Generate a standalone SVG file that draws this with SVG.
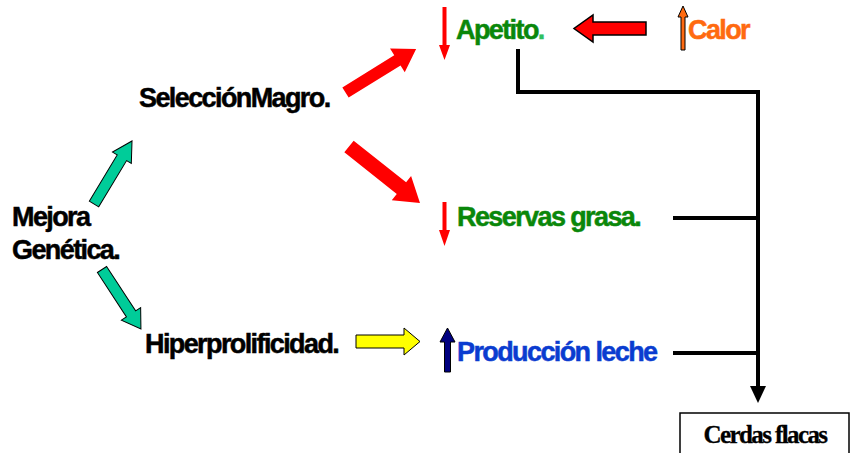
<svg xmlns="http://www.w3.org/2000/svg" width="854" height="453" viewBox="0 0 854 453">
<style>
.t{font-family:"Liberation Sans",Arial,sans-serif;font-weight:bold;font-size:27px;letter-spacing:-1.6px;stroke-width:0.5px}
.k{fill:#000;stroke:#000}
.g{fill:#0a870a;stroke:#0a870a}
.b{fill:#0a3cd0;stroke:#0a3cd0}
.o{fill:#ff6a10;stroke:#ff6a10}
.ln{fill:none;stroke:#000;stroke-width:4;stroke-linejoin:miter}
.fat{fill:#ff0000}
.grn{fill:#00cc99;stroke:#000;stroke-width:1}
</style>
<rect width="854" height="453" fill="#fff"/>
<g id="mejora"><text class="t k" x="12" y="226">Mejora</text><text class="t k" x="12" y="259">Genética.</text></g>
<g id="seleccion"><text class="t k" x="139" y="107">SelecciónMagro.</text></g>
<g id="hiper"><text class="t k" x="145" y="353">Hiperprolificidad.</text></g>
<g id="apetito">
<path d="M442.5,7 h4 v38 h3.5 l-5.5,15 l-5.5,-15 h3.5 z" fill="#ff0000"/>
<text class="t g" x="456" y="39">Apetito<tspan fill="#2fc060" stroke="#2fc060">.</tspan></text>
</g>
<g id="calor">
<path d="M681,50 v-33 h-3 l5,-11 l5,11 h-3 v33 z" fill="#ff6a10" stroke="#000" stroke-width="1"/>
<text class="t o" x="688" y="39">Calor</text>
</g>
<g id="reservas">
<path d="M442.5,202 h4 v28 h3.5 l-5.5,16 l-5.5,-16 h3.5 z" fill="#ff0000"/>
<text class="t g" x="457" y="226">Reservas grasa.</text>
</g>
<g id="produccion">
<path d="M444.5,372 v-30 h-4.5 l7.5,-14 l7.5,14 h-4.5 v30 z" fill="#000080" stroke="#000" stroke-width="1"/>
<text class="t b" x="457" y="361">Producción leche</text>
</g>
<g id="cerdas">
<rect x="680" y="413" width="169" height="60" fill="#fff" stroke="#000" stroke-width="1.5"/>
<text x="765" y="443" text-anchor="middle" font-family="'Liberation Serif','Times New Roman',serif" font-weight="bold" font-size="25" letter-spacing="-1.6" stroke="#000" stroke-width="0.3">Cerdas flacas</text>
</g>
<g id="connectors">
<path class="fat" transform="translate(345.5,92.5) rotate(-31.7)" d="M0,-6 L61,-6 L61,-14 L83,0 L61,14 L61,6 L0,6 Z"/>
<path class="fat" transform="translate(349,146.5) rotate(38.5)" d="M0,-7.5 L67,-7.5 L67,-15.5 L90.7,0 L67,15.5 L67,7.5 L0,7.5 Z"/>
<path class="grn" transform="translate(94,204) rotate(-58.9)" d="M0,-5.5 L54,-5.5 L54,-11 L73.6,0 L54,11 L54,5.5 L0,5.5 Z"/>
<path class="grn" transform="translate(102,269.5) rotate(56.8)" d="M0,-5.5 L53,-5.5 L53,-11.5 L71.1,0 L53,11.5 L53,5.5 L0,5.5 Z"/>
<path d="M356,335 h48 v-7 l16,13.5 l-16,13.5 v-7 h-48 z" fill="#ffff00" stroke="#000" stroke-width="1"/>
<path d="M646,22 h-53 v-7 l-19,13.5 l19,13.5 v-7 h53 z" fill="#ff0000" stroke="#000" stroke-width="1.5"/>
<polyline class="ln" points="518,49 518,92 758,92 758,388"/>
<line class="ln" x1="673" y1="218" x2="758" y2="218"/>
<line class="ln" x1="673" y1="353" x2="758" y2="353"/>
<path d="M750,386 h16 l-8,17 z" fill="#000"/>
</g>
</svg>
